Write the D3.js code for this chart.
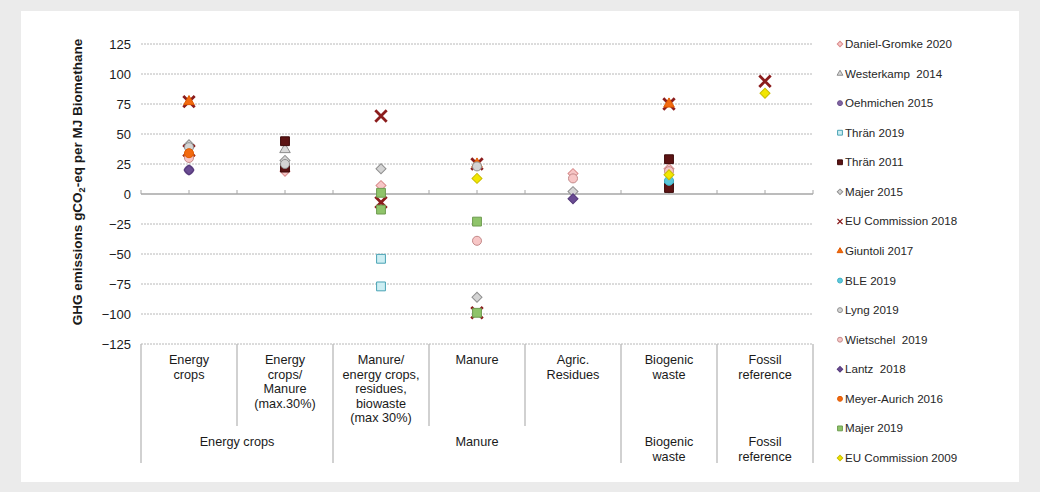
<!DOCTYPE html>
<html>
<head>
<meta charset="utf-8">
<script src="https://cdn.jsdelivr.net/npm/d3@7"></script>
<style>
  html, body { margin: 0; padding: 0; background: #ebebeb; }
  svg { display: block; font-family: "Liberation Sans", Arial, sans-serif; }
</style>
</head>
<body>
<svg id="chart" width="1040" height="492"></svg>
<script>
// Categories (bottom table, first level) and their groups (second level)
const categories = ["Energy crops", "Energy crops/Manure (max.30%)", "Manure/energy crops, residues, biowaste (max 30%)", "Manure", "Agric. Residues", "Biogenic waste", "Fossil reference"];
const categoryLines = [
  ["Energy", "crops"],
  ["Energy", "crops/", "Manure", "(max.30%)"],
  ["Manure/", "energy crops,", "residues,", "biowaste", "(max 30%)"],
  ["Manure"],
  ["Agric.", "Residues"],
  ["Biogenic", "waste"],
  ["Fossil", "reference"]
];
const groupLines = [["Energy crops"], ["Manure"], ["Biogenic", "waste"], ["Fossil", "reference"]];
const groupSpans = [[0, 1], [2, 4], [5, 5], [6, 6]];

const yTicks = [125, 100, 75, 50, 25, 0, -25, -50, -75, -100, -125];

// GHG emissions (g CO2-eq per MJ biomethane), one list of values per category
const danielGromke2020 = [[], [19], [7], [], [17], [21], []];
const westerkamp2014   = [[], [37], [], [], [], [], []];
const oehmichen2015    = [[20], [], [], [], [], [], []];
const thran2019        = [[], [], [-54, -77], [], [], [8], []];
const thran2011        = [[], [44, 22], [], [], [], [29, 5], []];
const majer2015        = [[41], [28], [21], [-86], [2], [], []];
const euCommission2018 = [[77, 36], [], [65, -7], [25, -99], [], [75], [94]];
const giuntoli2017     = [[77, 34], [], [], [25], [], [75], []];
const ble2019          = [[], [], [], [], [], [11], []];
const lyng2019         = [[39], [25], [], [23], [], [], []];
const wietschel2019    = [[30], [], [], [-39], [13], [19], []];
const lantz2018        = [[20], [], [], [], [-4], [], []];
const meyerAurich2016  = [[34], [], [], [], [], [], []];
const majer2019        = [[], [], [1, -13], [-23, -99], [], [], []];
const euCommission2009 = [[], [], [], [13], [], [16], [84]];

const seriesNames = ["Daniel-Gromke 2020", "Westerkamp  2014", "Oehmichen 2015", "Thrän 2019", "Thrän 2011", "Majer 2015", "EU Commission 2018", "Giuntoli 2017", "BLE 2019", "Lyng 2019", "Wietschel  2019", "Lantz  2018", "Meyer-Aurich 2016", "Majer 2019", "EU Commission 2009"];
const seriesValues = [danielGromke2020, westerkamp2014, oehmichen2015, thran2019, thran2011, majer2015, euCommission2018, giuntoli2017, ble2019, lyng2019, wietschel2019, lantz2018, meyerAurich2016, majer2019, euCommission2009];

// Marker styles per series
const seriesStyle = [
  { shape: "diamond",  fill: "#f7c6c6", stroke: "#d98c8c" },
  { shape: "triangle", fill: "#d9d9d9", stroke: "#8c8c8c" },
  { shape: "circle",   fill: "#8064a2", stroke: "#6a4f8c" },
  { shape: "square",   fill: "#cdeef3", stroke: "#4aa3b5" },
  { shape: "square",   fill: "#5c1414", stroke: "#3d0a0a" },
  { shape: "diamond",  fill: "#d4d4d4", stroke: "#8f8f8f" },
  { shape: "x",        fill: "none",    stroke: "#8b1c1c" },
  { shape: "triangle", fill: "#f26a10", stroke: "#e05a00" },
  { shape: "circle",   fill: "#5cc8dc", stroke: "#3fb0c4" },
  { shape: "circle",   fill: "#d4d4d4", stroke: "#8f8f8f" },
  { shape: "circle",   fill: "#f7c6c6", stroke: "#c48a8a" },
  { shape: "diamond",  fill: "#6a4c93", stroke: "#553a7a" },
  { shape: "circle",   fill: "#f26a10", stroke: "#e05a00" },
  { shape: "square",   fill: "#8fc46a", stroke: "#6e9c50" },
  { shape: "diamond",  fill: "#f2e600", stroke: "#c9bd00" }
];

const svg = d3.select("#chart");

// white card
svg.append("rect").attr("x", 21).attr("y", 11).attr("width", 998).attr("height", 471).attr("fill", "#ffffff");

const plotLeft = 141, plotRight = 813, plotTop = 44, plotBottom = 344;
const y = d3.scaleLinear().domain([-125, 125]).range([plotBottom, plotTop]);
const x = d3.scaleBand().domain(d3.range(categories.length)).range([plotLeft, plotRight]).padding(0);

// horizontal gridlines
svg.append("g").selectAll("line").data(yTicks.filter(d => d !== 0)).join("line")
  .attr("x1", plotLeft).attr("x2", plotRight)
  .attr("y1", d => y(d)).attr("y2", d => y(d))
  .attr("stroke", "#b8b8b8").attr("stroke-width", 1).attr("stroke-dasharray", "2,1");

// y axis labels
const yAxis = d3.axisLeft(y).tickValues(yTicks).tickSize(0).tickPadding(0);
const yg = svg.append("g").attr("transform", `translate(${plotLeft - 10},0)`).call(yAxis);
yg.select(".domain").remove();
yg.selectAll("text").attr("font-size", 13).attr("fill", "#1a1a1a").attr("font-family", "Liberation Sans, Arial, sans-serif");

// zero line with small tick marks at half-category steps
svg.append("line").attr("x1", plotLeft).attr("x2", plotRight).attr("y1", y(0)).attr("y2", y(0))
  .attr("stroke", "#a6a6a6").attr("stroke-width", 1.3);
const halfSteps = d3.range(categories.length * 2 + 1).map(i => plotLeft + i * x.bandwidth() / 2);
svg.append("g").selectAll("line").data(halfSteps).join("line")
  .attr("x1", d => d).attr("x2", d => d).attr("y1", y(0)).attr("y2", y(0) - 4)
  .attr("stroke", "#a6a6a6").attr("stroke-width", 1);

// y axis title
svg.append("text")
  .attr("transform", `translate(82,${(plotTop + plotBottom) / 2 - 12}) rotate(-90)`)
  .attr("text-anchor", "middle").attr("font-size", 13.5).attr("font-weight", "bold").attr("fill", "#1a1a1a")
  .call(t => {
    t.append("tspan").text("GHG emissions gCO");
    t.append("tspan").attr("font-size", 9).attr("dy", 3).text("2");
    t.append("tspan").attr("dy", -3).text("-eq per MJ Biomethane");
  });

// category table: separators
const groupEdges = [plotLeft].concat(groupSpans.map(s => x(s[1]) + x.bandwidth()));
const edges = d3.range(categories.length + 1).map(i => plotLeft + i * x.bandwidth());
svg.append("g").selectAll("line").data(edges).join("line")
  .attr("x1", d => d).attr("x2", d => d)
  .attr("y1", plotBottom)
  .attr("y2", d => groupEdges.some(g => Math.abs(g - d) < 0.5) ? 463 : 426)
  .attr("stroke", "#b8b8b8").attr("stroke-width", 1.3);

// category labels
const catG = svg.append("g").attr("font-size", 12.7).attr("fill", "#1a1a1a").attr("text-anchor", "middle");
categoryLines.forEach((lines, i) => {
  const cx = x(i) + x.bandwidth() / 2;
  const t = catG.append("text").attr("x", cx).attr("y", 364);
  lines.forEach((ln, j) => t.append("tspan").attr("x", cx).attr("dy", j === 0 ? 0 : 14.5).text(ln));
});
// group labels
groupLines.forEach((lines, i) => {
  const cx = (x(groupSpans[i][0]) + x(groupSpans[i][1]) + x.bandwidth()) / 2;
  const t = catG.append("text").attr("x", cx).attr("y", 446);
  lines.forEach((ln, j) => t.append("tspan").attr("x", cx).attr("dy", j === 0 ? 0 : 14.5).text(ln));
});

// marker shapes
const xShape = {
  draw(ctx, size) {
    const r = Math.sqrt(size) / 2;
    ctx.moveTo(-r, -r); ctx.lineTo(r, r);
    ctx.moveTo(r, -r); ctx.lineTo(-r, r);
  }
};
function markerPath(shape, scale) {
  const s = scale;
  if (shape === "circle") return d3.symbol(d3.symbolCircle, 64 * s)();
  if (shape === "square") return d3.symbol(d3.symbolSquare, 78 * s)();
  if (shape === "diamond") return d3.symbol(d3.symbolSquare, 50 * s)();
  if (shape === "triangle") return d3.symbol(d3.symbolTriangle, 48 * s)();
  return d3.symbol(xShape, 130 * s)();
}
function styleMarker(sel, st, scale) {
  sel.attr("d", markerPath(st.shape, scale))
    .attr("fill", st.fill)
    .attr("stroke", st.stroke)
    .attr("stroke-width", st.shape === "x" ? 2.8 * Math.sqrt(scale) : 1);
}

// data markers
const markers = svg.append("g");
seriesValues.forEach((vals, si) => {
  const st = seriesStyle[si];
  const pts = [];
  vals.forEach((list, ci) => list.forEach(v => pts.push({ ci, v })));
  markers.append("g").selectAll("path").data(pts).join("path")
    .attr("transform", d => `translate(${x(d.ci) + x.bandwidth() / 2},${y(d.v)})` + (st.shape === "diamond" ? " rotate(45)" : ""))
    .call(sel => styleMarker(sel, st, 1));
});

// legend
const legend = svg.append("g").attr("font-size", 11.6).attr("fill", "#262626");
seriesNames.forEach((name, i) => {
  const ly = 44 + i * 29.57;
  const st = seriesStyle[i];
  legend.append("path")
    .attr("transform", `translate(840,${ly})` + (st.shape === "diamond" ? " rotate(45)" : ""))
    .call(sel => styleMarker(sel, st, st.shape === "x" ? 0.2 : 0.3));
  legend.append("text").attr("x", 845).attr("y", ly + 4).text(name).style("white-space", "pre");
});
</script>
</body>
</html>
